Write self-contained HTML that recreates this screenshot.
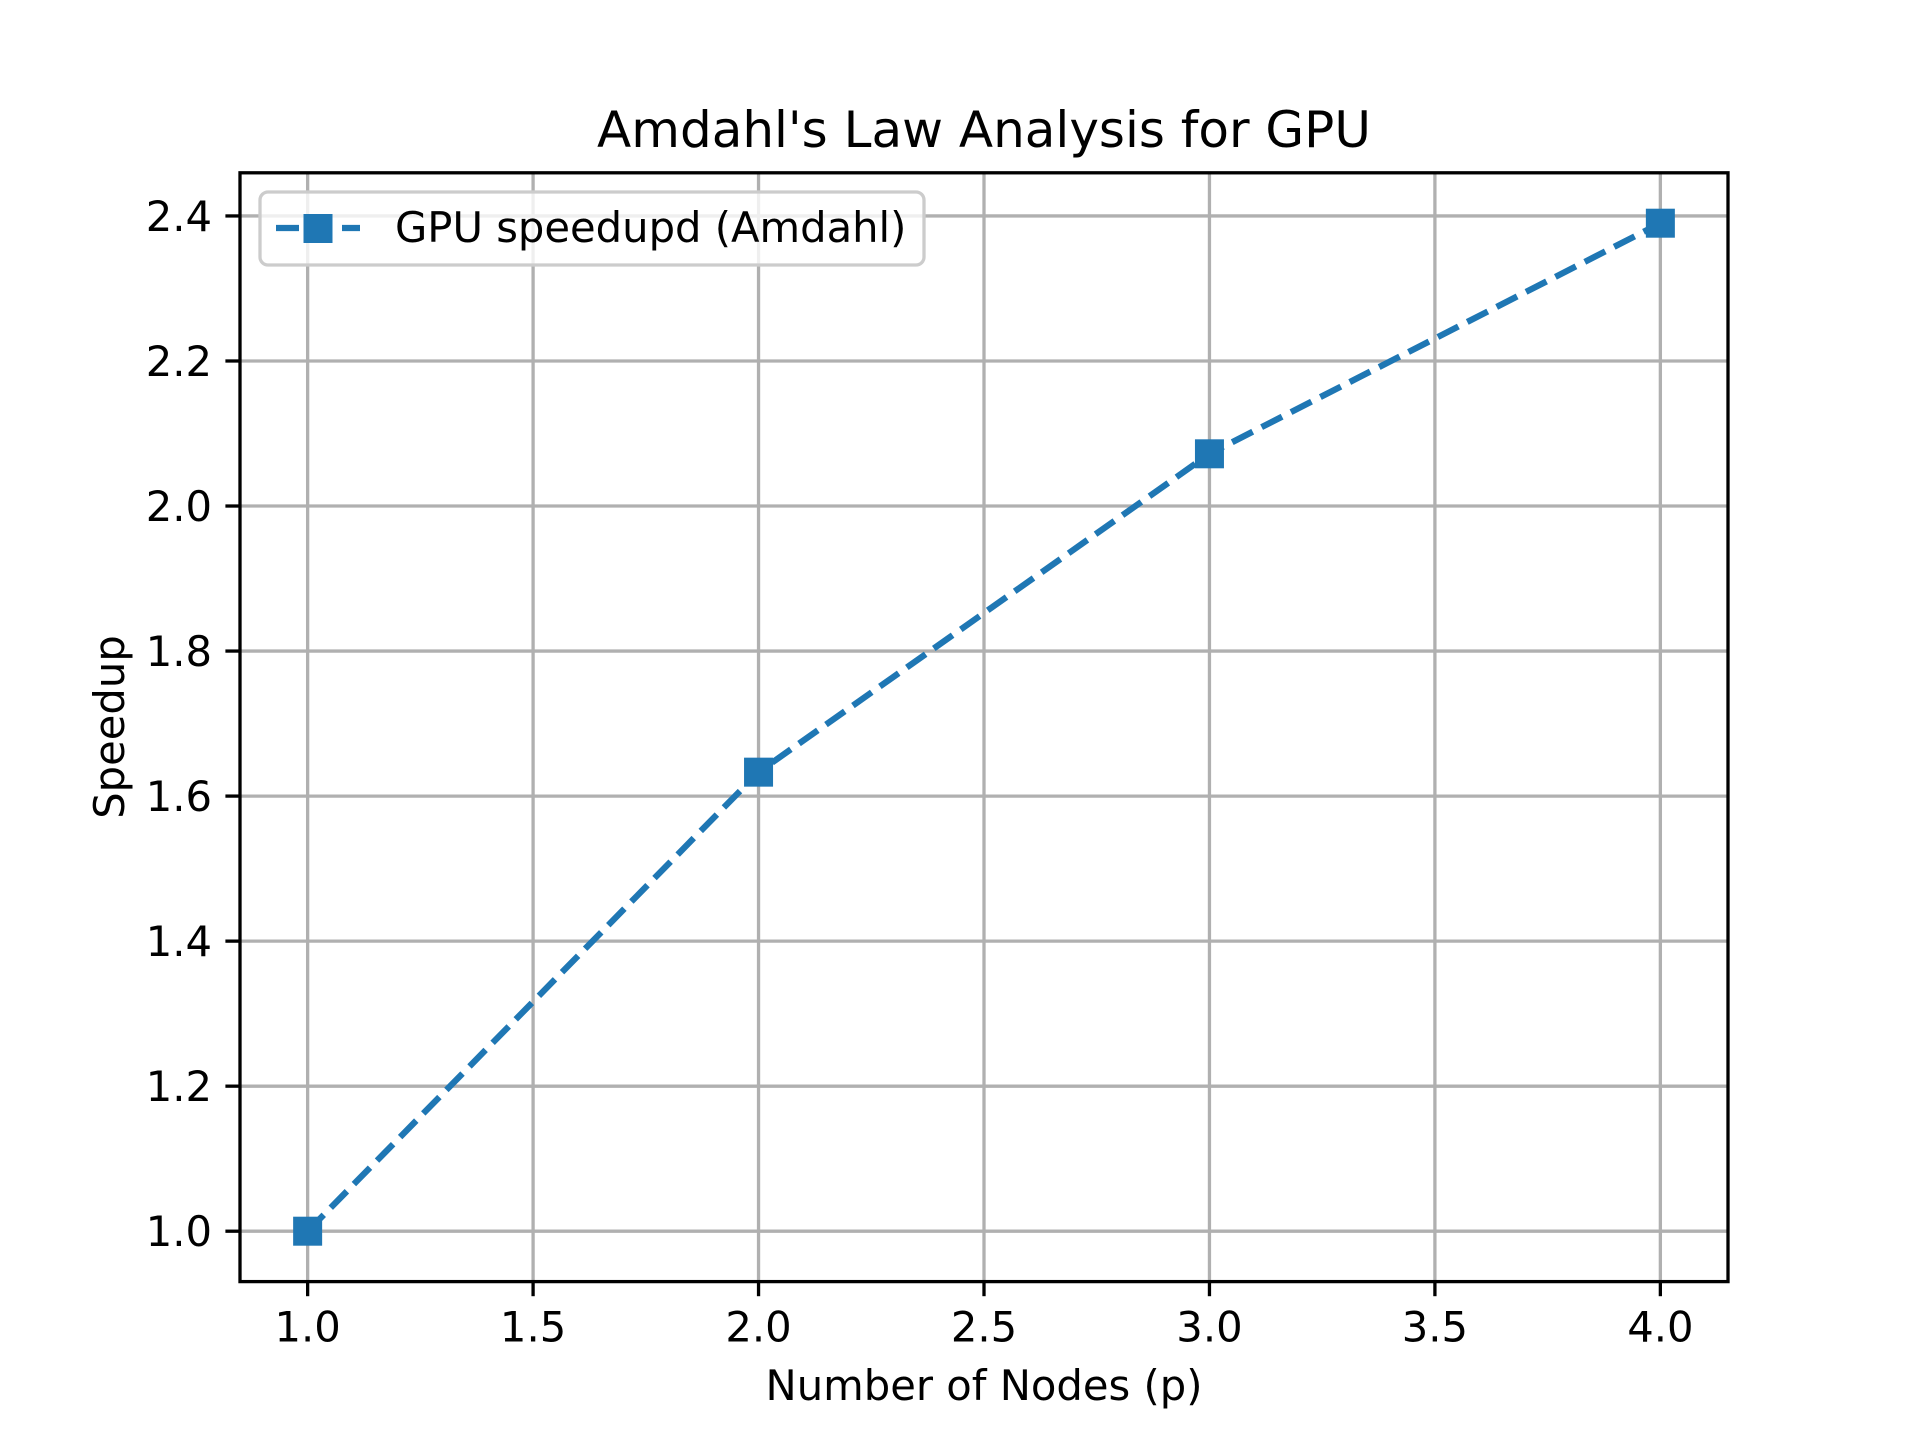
<!DOCTYPE html>
<html><head><meta charset="utf-8"><style>
html,body{margin:0;padding:0;background:#fff;}
svg{display:block;font-family:"DejaVu Sans","Liberation Sans",sans-serif;}
</style></head><body>
<svg id="chart" width="1920" height="1440" viewBox="0 0 1920 1440" xmlns="http://www.w3.org/2000/svg">
<rect width="1920" height="1440" fill="#fff"/>
<g id="grid"></g>
<g id="ticks"></g>
<g id="series"></g>
<rect x="240" y="172.8" width="1488" height="1108.8" fill="none" stroke="#000" stroke-width="3.3"/>
<text x="984" y="147" text-anchor="middle" font-size="50" fill="#000">Amdahl's Law Analysis for GPU</text>
<text x="984" y="1400" text-anchor="middle" font-size="41.7" fill="#000">Number of Nodes (p)</text>
<text transform="translate(124,727) rotate(-90)" text-anchor="middle" font-size="41.7" fill="#000">Speedup</text>
<g transform="translate(-4,-4)">
<rect x="264" y="196" width="664" height="73" rx="8" fill="#fff" fill-opacity="0.8" stroke="#cccccc" stroke-width="3.3"/>
<line x1="280" y1="232" x2="364" y2="232" stroke="#1f77b4" stroke-width="6.25" stroke-dasharray="23,10"/>
<rect x="307.5" y="218" width="29" height="29" fill="#1f77b4"/>
<text x="399" y="246" font-size="41.7" fill="#000">GPU speedupd (Amdahl)</text>
</g>
</svg>
<script>
const nodes = [1, 2, 3, 4];
const speedup = [1.0, 1.633, 2.072, 2.39];
const xTicks = [1.0, 1.5, 2.0, 2.5, 3.0, 3.5, 4.0];
const yTicks = [1.0, 1.2, 1.4, 1.6, 1.8, 2.0, 2.2, 2.4];

const NS = "http://www.w3.org/2000/svg";
const L = 240, R = 1728, T = 172.8, B = 1281.6;
const xmin = 0.85, xmax = 4.15;
const dmin = Math.min(...speedup), dmax = Math.max(...speedup);
const pad = (dmax - dmin) * 0.05;
const ymin = dmin - pad, ymax = dmax + pad;
const X = v => L + (v - xmin) / (xmax - xmin) * (R - L);
const Y = v => B - (v - ymin) / (ymax - ymin) * (B - T);
function mk(tag, attrs, parent) {
  const e = document.createElementNS(NS, tag);
  for (const k in attrs) e.setAttribute(k, attrs[k]);
  parent.appendChild(e);
  return e;
}
const grid = document.getElementById('grid');
const ticks = document.getElementById('ticks');
const series = document.getElementById('series');
xTicks.forEach(t => {
  const x = X(t);
  const g = mk('line', {x1: x, y1: T, x2: x, y2: B, stroke: '#b0b0b0', 'stroke-width': 3.3}, grid);
  
  
  const tk = mk('line', {x1: x, y1: B, x2: x, y2: B + 14.6, stroke: '#000', 'stroke-width': 3.3}, ticks);
  
  
  const lb = mk('text', {x: x, y: B + 60, 'text-anchor': 'middle', 'font-size': 41.7, fill: '#000'}, ticks);
  lb.textContent = t.toFixed(1);
  
  
});
yTicks.forEach(t => {
  const y = Y(t);
  const g = mk('line', {x1: L, y1: y, x2: R, y2: y, stroke: '#b0b0b0', 'stroke-width': 3.3}, grid);
  
  
  const tk = mk('line', {x1: L - 14.6, y1: y, x2: L, y2: y, stroke: '#000', 'stroke-width': 3.3}, ticks);
  
  
  const lb = mk('text', {x: L - 28, y: y + 15, 'text-anchor': 'end', 'font-size': 41.7, fill: '#000'}, ticks);
  lb.textContent = t.toFixed(1);
  
  
});
const pts = nodes.map((n, i) => X(n) + ',' + Y(speedup[i])).join(' ');
const line = mk('polyline', {points: pts, fill: 'none', stroke: '#1f77b4', 'stroke-width': 6.25, 'stroke-dasharray': '23,10'}, series);


nodes.forEach((n, i) => {
  const m = mk('rect', {x: X(n) - 14.5, y: Y(speedup[i]) - 14.5, width: 29, height: 29, fill: '#1f77b4'}, series);
  
  
});
</script>
</body></html>
